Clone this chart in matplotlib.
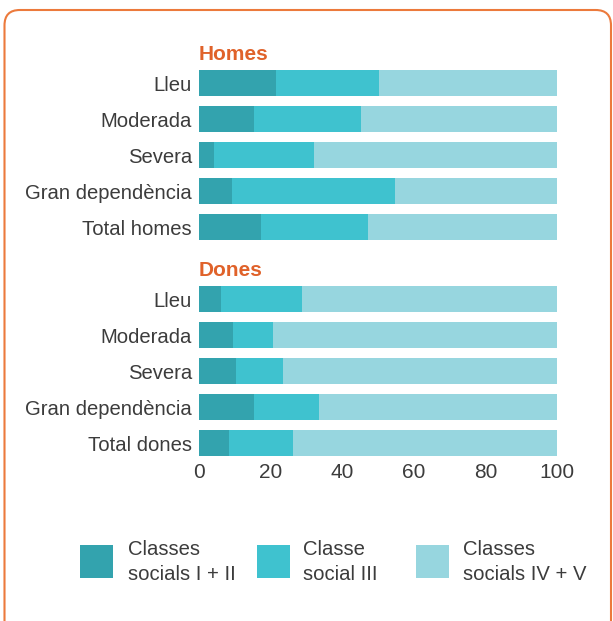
import matplotlib
matplotlib.use("Agg")
import matplotlib.pyplot as plt
from matplotlib.patches import FancyBboxPatch, Rectangle
import numpy as np

# ---- data ----
categories = ["Lleu", "Moderada", "Severa", "Gran dependència"]
groups = ["Homes", "Dones"]
total_labels = ["Total homes", "Total dones"]

homes_I_II = [21.5, 15.4, 4.2, 9.2, 17.3]
homes_III = [28.8, 29.9, 27.9, 45.5, 29.9]
homes_IV_V = [49.7, 54.7, 67.9, 45.3, 52.8]

dones_I_II = [6.1, 9.5, 10.3, 15.4, 8.4]
dones_III = [22.7, 11.2, 13.2, 18.1, 17.9]
dones_IV_V = [71.2, 79.3, 76.5, 66.5, 73.7]

legend_labels = ["Classes\nsocials I + II", "Classe\nsocial III", "Classes\nsocials IV + V"]
xticks = [0, 20, 40, 60, 80, 100]

# ---- style ----
colors = ["#33A3AE", "#3FC2CF", "#97D6DF"]
text_color = "#3C3C3C"
orange = "#E0622A"
frame_color = "#EC7A3C"
W, H = 613, 621

plt.rcParams["font.family"] = ["Liberation Sans", "DejaVu Sans"]

fig = plt.figure(figsize=(W / 100, H / 100), dpi=100)

# rounded frame
frame = FancyBboxPatch((4.5 / W, -20 / H), (611 - 4.5) / W, (611 + 20) / H,
                       boxstyle="round,pad=0,rounding_size=0.025",
                       transform=fig.transFigure, fill=False,
                       edgecolor=frame_color, linewidth=1.5, mutation_aspect=W / H)
fig.patches.append(frame)

ax_top, ax_bot = 40, 456
ax = fig.add_axes([199 / W, 1 - ax_bot / H, 358 / W, (ax_bot - ax_top) / H])

pitch = 36
y0 = 83
ylim_top = (ax_top - y0) / pitch
ylim_bot = (ax_bot - y0) / pitch

labels_all = categories + [total_labels[0]] + categories + [total_labels[1]]
ypos_h = np.arange(5)
ypos_d = np.arange(5) + 6
bh = 26 / pitch

for ypos, series in [(ypos_h, (homes_I_II, homes_III, homes_IV_V)),
                     (ypos_d, (dones_I_II, dones_III, dones_IV_V))]:
    left = np.zeros(5)
    for vals, c in zip(series, colors):
        ax.barh(ypos, vals, left=left, height=bh, color=c, linewidth=0)
        left = left + np.array(vals)

ax.set_ylim(ylim_bot, ylim_top)
ax.set_xlim(0, 100)
ax.set_yticks(list(ypos_h) + list(ypos_d))
ax.set_yticklabels(labels_all)
ax.set_xticks(xticks)
ax.set_xticklabels([str(t) for t in xticks])
ax.tick_params(axis="y", length=0, pad=5, labelsize=14.6, labelcolor=text_color)
ax.tick_params(axis="x", length=0, pad=5, labelsize=15, labelcolor=text_color)
for s in ax.spines.values():
    s.set_visible(False)

for g, first in zip(groups, [0, 6]):
    ax.text(0, first - 0.8, g, color=orange, fontsize=15, fontweight="bold",
            ha="left", va="center", clip_on=False)

# legend
sq_x = [80, 257, 416]
txt_x = [128, 303, 463]
for lab, c, sx, tx in zip(legend_labels, colors, sq_x, txt_x):
    fig.patches.append(Rectangle((sx / W, 1 - 578 / H), 33 / W, 33 / H,
                                 transform=fig.transFigure, facecolor=c, edgecolor="none"))
    fig.text(tx / W, 1 - 562 / H, lab, ha="left", va="center", fontsize=14.6,
             color=text_color, linespacing=1.42)

fig.savefig("out.png", dpi=100)
